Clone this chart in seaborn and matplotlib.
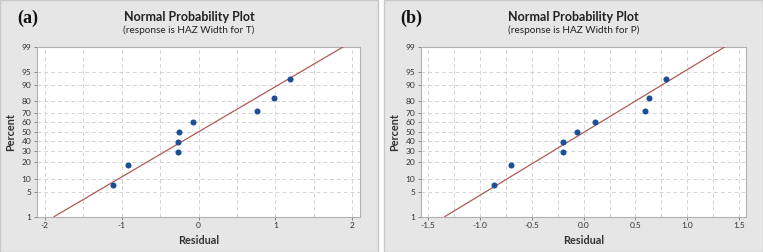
import matplotlib
matplotlib.use('Agg')
import matplotlib.pyplot as plt
from matplotlib.patches import Rectangle
from matplotlib.ticker import MultipleLocator, FormatStrFormatter
import numpy as np
import pandas as pd
import seaborn as sns
from statistics import NormalDist

# data
percent = [7.4, 18.1, 28.7, 39.4, 50.0, 60.6, 71.3, 81.9, 92.6]
resid_t = [-1.11, -0.917, -0.27, -0.27, -0.26, -0.07, 0.756, 0.983, 1.187]
resid_p = [-0.863, -0.70, -0.196, -0.196, -0.061, 0.106, 0.596, 0.628, 0.796]
pct_ticks = [1, 5, 10, 20, 30, 40, 50, 60, 70, 80, 90, 95, 99]
panel_tags = ['(a)', '(b)']
subtitles = ['(response is HAZ Width for T)', '(response is HAZ Width for P)']

sns.set_style('white')
plt.rcParams['font.family'] = ['Lato', 'DejaVu Sans']
plt.rcParams['axes.unicode_minus'] = False

nd = NormalDist()
_ppf = np.vectorize(lambda p: nd.inv_cdf(min(max(p / 100.0, 1e-9), 1 - 1e-9)), otypes=[float])
_cdf = np.vectorize(lambda z: nd.cdf(z) * 100.0, otypes=[float])


def fwd(p):
    return _ppf(np.asarray(p, dtype=float))


def inv(z):
    return _cdf(np.asarray(z, dtype=float))


W, H = 763, 252
fig = plt.figure(figsize=(W / 100, H / 100), dpi=100)
fig.patch.set_facecolor('white')

panels = [
    dict(resid=resid_t, xlim=(-2.1, 2.1), major=1.0, minor=0.5, fmt='%d',
         bg=(0, 378), ax=(37, 360)),
    dict(resid=resid_p, xlim=(-1.57, 1.565), major=0.5, minor=0.25, fmt='%.1f',
         bg=(384, 763), ax=(421, 745.7)),
]
ax_top, ax_bot = 46.7, 216.7

for i, p in enumerate(panels):
    x0, x1 = p['bg']
    fig.add_artist(Rectangle((x0 / W, 0), (x1 - x0) / W, 1, transform=fig.transFigure,
                             facecolor='#e6e6e6', edgecolor='#c9c9c9', lw=1, zorder=0))
    a0, a1 = p['ax']
    ax = fig.add_axes([a0 / W, 1 - ax_bot / H, (a1 - a0) / W, (ax_bot - ax_top) / H])
    ax.set_facecolor('white')
    ax.set_yscale('function', functions=(fwd, inv))

    df = pd.DataFrame({'Residual': p['resid'], 'Percent': percent})
    mu = np.mean(df['Residual'])
    sd = np.std(df['Residual'], ddof=1)
    fit = pd.DataFrame({'Percent': [1, 99]})
    fit['Residual'] = mu + sd * np.array([nd.inv_cdf(v / 100) for v in fit['Percent']])

    sns.lineplot(data=fit, x='Residual', y='Percent', ax=ax, color='#b05a55', lw=0.9,
                 sort=False, zorder=3)
    sns.scatterplot(data=df, x='Residual', y='Percent', ax=ax, color='#1b4f98', s=19,
                    linewidth=0, zorder=4)

    ax.set_ylim(1, 99)
    ax.set_xlim(*p['xlim'])
    ax.set_yticks(pct_ticks)
    ax.set_yticklabels([str(t) for t in pct_ticks])
    ax.yaxis.set_minor_locator(plt.NullLocator())
    ax.xaxis.set_major_locator(MultipleLocator(p['major']))
    ax.xaxis.set_major_formatter(FormatStrFormatter(p['fmt']))
    ax.xaxis.set_minor_locator(MultipleLocator(p['minor']))

    ax.grid(True, which='both', axis='x', color='#d4d4d4', ls=(0, (4, 3)), lw=0.7)
    ax.grid(True, which='major', axis='y', color='#d4d4d4', ls=(0, (4, 3)), lw=0.7)
    ax.tick_params(axis='both', which='major', labelsize=6, length=2.5, width=0.6,
                   color='#777777', labelcolor='#333333', pad=1.5, left=True, bottom=True)
    ax.tick_params(axis='x', which='minor', length=0)
    for s in ax.spines.values():
        s.set_color('#b0b0b0')
        s.set_linewidth(0.8)

    ax.set_xlabel('Residual', fontsize=7.8, fontweight='bold', color='#333333', labelpad=4)
    ax.set_ylabel('Percent', fontsize=7.8, fontweight='bold', color='#333333', labelpad=4)

    cx = (x0 + x1) / 2 / W
    fig.text(cx, 1 - 16.7 / H, 'Normal Probability Plot', ha='center', va='center',
             fontsize=9, fontweight='bold', color='#222222')
    fig.text(cx, 1 - 30 / H, subtitles[i], ha='center', va='center',
             fontsize=7.2, color='#222222')
    fig.text((x0 + 27.5) / W, 1 - 18.5 / H, panel_tags[i], ha='center', va='center',
             fontsize=13, fontweight='bold', family='Liberation Serif', color='#111111')

fig.savefig('out.png', dpi=100)
plt.close(fig)
